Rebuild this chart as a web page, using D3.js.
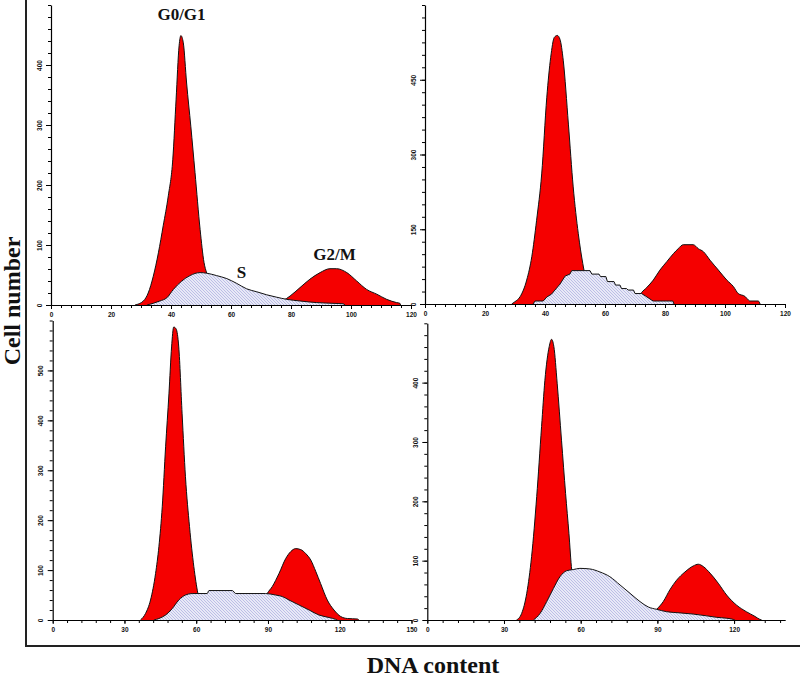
<!DOCTYPE html>
<html><head><meta charset="utf-8">
<script src="https://cdn.jsdelivr.net/npm/d3@7"></script>
<style>body{margin:0;background:#fff}svg{display:block}</style>
</head><body>
<svg id="c" width="800" height="677"></svg>
<script>
// ---------- DATA (DNA content, cell number) ----------
const p1G1 = [[28,0],[30.8,6.7],[32.4,20],[34.1,48],[35.8,87],[37.4,132],[39.1,182],[40.6,243],[41.7,343],[42.7,432],[43.3,449],[44.1,437],[45.2,370],[46.6,298],[48,221],[49.7,126],[51,71],[51.9,53],[54,25],[56,10],[58,3],[60,0]];
const p1S  = [[32,0],[36.3,6.7],[38.6,12],[40.8,26],[43.6,40],[46.3,49],[49.7,54],[51.9,53],[55.2,49],[58.6,44],[61.9,36],[65.2,27],[68.6,22],[71.9,17],[75.2,13],[78.6,9.4],[83,6.7],[88.6,4],[94,2.8],[97.4,2],[98,0]];
const p1G2 = [[72,0],[75,3],[77.4,7.5],[79.7,15],[83,29],[86.3,43],[89.7,54],[93,60.5],[95.2,60.5],[98.6,54],[101.9,40],[105.2,26],[108.6,18],[111.9,9.4],[115.2,4],[116.3,2.8],[116.5,0]];

const p2G1 = [[28.9,0],[30,4.7],[31.7,14.7],[33.9,48],[35.6,95],[37.2,168],[38.9,261],[40.6,415],[41.9,495],[43.1,535],[44.1,539],[45,531],[46.1,488],[47.8,361],[49.4,235],[51.1,141],[52.6,81],[53,68],[56,25],[60,5],[64,0]];
const p2S  = [[36,0],[36.7,6],[39.4,6],[40.6,14],[42.2,20],[43.3,28],[45,40],[46.7,56],[48.3,60],[48.9,67],[55,67],[55.6,60],[58,60],[58.5,55],[60.3,55],[60.8,45],[63,45],[63.5,38],[65,38],[65.5,31],[67.2,31],[67.7,28],[69.5,28],[70,21],[72.2,21],[73.5,16],[75.5,8],[76.1,6],[82.6,6],[83,0]];
const p2G2 = [[66,0],[69,4],[71,12],[72.2,23],[73.9,33],[76.1,48],[78.3,68],[80.6,85],[82.8,101],[84.4,111],[86.1,119],[89.4,119],[91.1,111],[92.8,105],[95,88],[97.8,68],[100.6,48],[102.8,35],[104.4,21],[106.7,15],[107.8,8],[108.3,6],[111.1,6],[111.7,0]];

const p3G1 = [[36.7,0],[38.8,13],[40.9,40],[43,93],[44.4,147],[45.8,227],[47.2,347],[48.6,453],[49.7,547],[50.6,587],[51.6,583],[52.7,547],[54.1,413],[55.5,287],[57.2,187],[59,107],[60.7,53],[63,20],[66,5],[68,0]];
const p3S  = [[42.3,0],[44.4,3],[47.2,10],[50,23],[52.7,40],[55.5,50],[58.3,53],[64.6,53],[65.3,59],[75.1,59],[76.5,53],[89,53],[93.2,50],[96,47],[98.8,40],[103,30],[107.2,20],[111.3,10],[115.5,5],[118.3,1.3],[119,0]];
const p3G2 = [[84,0],[87,20],[89.7,53],[91.8,67],[94.6,93],[97.4,123],[99.5,137],[101.6,143],[103.7,141],[105.8,133],[107.9,120],[110,97],[112,73],[114.8,40],[117.6,20],[120.4,7],[123.2,3],[127.4,2],[128,0]];

const p4G1 = [[34.9,0],[36.9,11],[38.9,45],[40.8,107],[42.8,208],[44.7,326],[46,404],[47.7,461],[48.6,473],[49.5,461],[50.8,399],[52.5,303],[54.1,213],[55.4,146],[56.5,84],[58,55],[61,20],[64,5],[66,0]];
const p4S  = [[41.5,0],[44.1,11],[46.7,31],[49.3,53],[51.9,73],[54.5,83],[57.1,85],[59.7,87],[63.6,86],[67.5,81],[71.4,73],[75.4,59],[79.3,45],[83.2,31],[86.4,22],[89.7,18],[93.6,14],[98.8,12],[104,10],[109.3,7],[113.2,4.5],[117.1,3],[119.7,1],[120.3,0]];
const p4G2 = [[84,0],[87,8],[89.7,18],[92.3,31],[94.9,51],[97.5,67],[100.8,81],[104,91],[106,94],[108,90],[110.6,79],[113.8,62],[117.1,42],[121,25],[124.8,14],[128.2,6],[130.1,1],[130.8,0]];

const p1XTicks = [0,20,40,60,80,100,120];
const p2XTicks = [0,20,40,60,80,100,120];
const p3XTicks = [0,30,60,90,120,150];
const p4XTicks = [0,30,60,90,120];
const p1YTicks = [0,100,200,300,400];
const p2YTicks = [0,150,300,450];
const p3YTicks = [0,100,200,300,400,500];
const p4YTicks = [0,100,200,300,400];

const phaseLabels = ["G0/G1", "S", "G2/M"];
const yTitle = "Cell number";
const xTitle = "DNA content";

// ---------- LAYOUT ----------
const panels = [
  {g1:p1G1, s:p1S, g2:p1G2, xd:[0,120], yd:[0,500], xr:[51,411], yr:[305,5], xt:p1XTicks, xm:20/6, yt:p1YTicks, ym:20, stepS:false},
  {g1:p2G1, s:p2S, g2:p2G2, xd:[0,120], yd:[0,600], xr:[425,785], yr:[304,5], xt:p2XTicks, xm:20/6, yt:p2YTicks, ym:25, stepS:true},
  {g1:p3G1, s:p3S, g2:p3G2, xd:[0,150], yd:[0,600], xr:[52.7,411.5], yr:[620,320.5], xt:p3XTicks, xm:6, yt:p3YTicks, ym:20, stepS:false},
  {g1:p4G1, s:p4S, g2:p4G2, xd:[0,140], yd:[0,500], xr:[427.3,785.2], yr:[620,323.3], xt:p4XTicks, xm:6, yt:p4YTicks, ym:20, stepS:false}
];

const svg = d3.select("#c");
const defs = svg.append("defs");
const pat = defs.append("pattern").attr("id","hatch").attr("patternUnits","userSpaceOnUse")
  .attr("width",3).attr("height",3);
pat.append("rect").attr("width",3).attr("height",3).attr("fill","#e8e9f7");
pat.append("path").attr("d","M-1,-1 L4,4 M-1,2 L1,4 M2,-1 L4,1")
  .attr("stroke","#9da1da").attr("stroke-width",0.6);

const RED = "#f50000";

panels.forEach((p,i) => {
  const x = d3.scaleLinear().domain(p.xd).range(p.xr);
  const y = d3.scaleLinear().domain(p.yd).range(p.yr);
  const g = svg.append("g");
  const mkArea = (curve) => d3.area().x(d=>x(d[0])).y0(y(0)).y1(d=>y(d[1])).curve(curve);
  const mkLine = (curve) => d3.line().x(d=>x(d[0])).y(d=>y(d[1])).curve(curve);
  const smooth = d3.curveMonotoneX;
  const sCurve = p.stepS ? d3.curveLinear : smooth;

  [p.g1, p.g2].forEach(arr => {
    g.append("path").datum(arr).attr("d", mkArea(smooth)).attr("fill", RED);
    g.append("path").datum(arr).attr("d", mkLine(smooth)).attr("fill","none").attr("stroke","#111").attr("stroke-width",1);
  });
  g.append("path").datum(p.s).attr("d", mkArea(sCurve)).attr("fill","url(#hatch)");
  g.append("path").datum(p.s).attr("d", mkLine(sCurve)).attr("fill","none").attr("stroke","#111").attr("stroke-width",1);

  // x axis
  const xMinor = d3.range(p.xd[0], p.xd[1] + 0.001, p.xm);
  g.append("g").attr("transform",`translate(0,${p.yr[0]})`)
    .call(d3.axisBottom(x).tickValues(xMinor).tickSize(3).tickSizeOuter(0).tickFormat(""))
    .call(a => a.select(".domain").remove());
  const xa = g.append("g").attr("transform",`translate(0,${p.yr[0]})`)
    .call(d3.axisBottom(x).tickValues(p.xt).tickSize(4).tickSizeOuter(0).tickPadding(3));
  xa.select(".domain").attr("stroke-width",1.2);
  xa.selectAll("text").attr("font-size","6.5px").attr("font-weight","bold").attr("font-family","Liberation Sans, Arial, sans-serif").attr("fill","#111");

  // y axis
  const yMinor = d3.range(p.yd[0], p.yd[1] + 0.001, p.ym);
  g.append("g").attr("transform",`translate(${p.xr[0]},0)`)
    .call(d3.axisLeft(y).tickValues(yMinor).tickSize(3).tickSizeOuter(0).tickFormat(""))
    .call(a => a.select(".domain").remove());
  const ya = g.append("g").attr("transform",`translate(${p.xr[0]},0)`)
    .call(d3.axisLeft(y).tickValues(p.yt).tickSize(5).tickSizeOuter(0));
  ya.select(".domain").attr("stroke-width",1.2);
  ya.selectAll("text")
    .attr("x",null).attr("dy",null)
    .attr("transform","translate(-11,0) rotate(-90)")
    .attr("text-anchor","middle").attr("dominant-baseline","middle")
    .attr("font-size","6.5px").attr("font-weight","bold").attr("font-family","Liberation Sans, Arial, sans-serif").attr("fill","#111");

  if (i === 0) {
    const lf = "Liberation Serif, Times New Roman, serif";
    const lab = [[43.5,475],[63.5,45],[94.5,75]];
    phaseLabels.forEach((t,k) => {
      g.append("text").attr("x", x(lab[k][0])).attr("y", y(lab[k][1]))
        .attr("text-anchor","middle").attr("font-family",lf).attr("font-weight","bold")
        .attr("font-size","17px").attr("fill","#111").text(t);
    });
  }
});

// outer frame
svg.append("line").attr("x1",26).attr("y1",0).attr("x2",26).attr("y2",646).attr("stroke","#222").attr("stroke-width",2);
svg.append("line").attr("x1",25).attr("y1",646).attr("x2",800).attr("y2",646).attr("stroke","#222").attr("stroke-width",2);

const tf = "Liberation Serif, Times New Roman, serif";
svg.append("text").attr("transform","translate(20,301) rotate(-90)")
  .attr("text-anchor","middle").attr("font-family",tf).attr("font-weight","bold").attr("font-size","24px").attr("fill","#111").text(yTitle);
svg.append("text").attr("x",433).attr("y",673)
  .attr("text-anchor","middle").attr("font-family",tf).attr("font-weight","bold").attr("font-size","24px").attr("fill","#111").text(xTitle);
</script>
</body></html>
